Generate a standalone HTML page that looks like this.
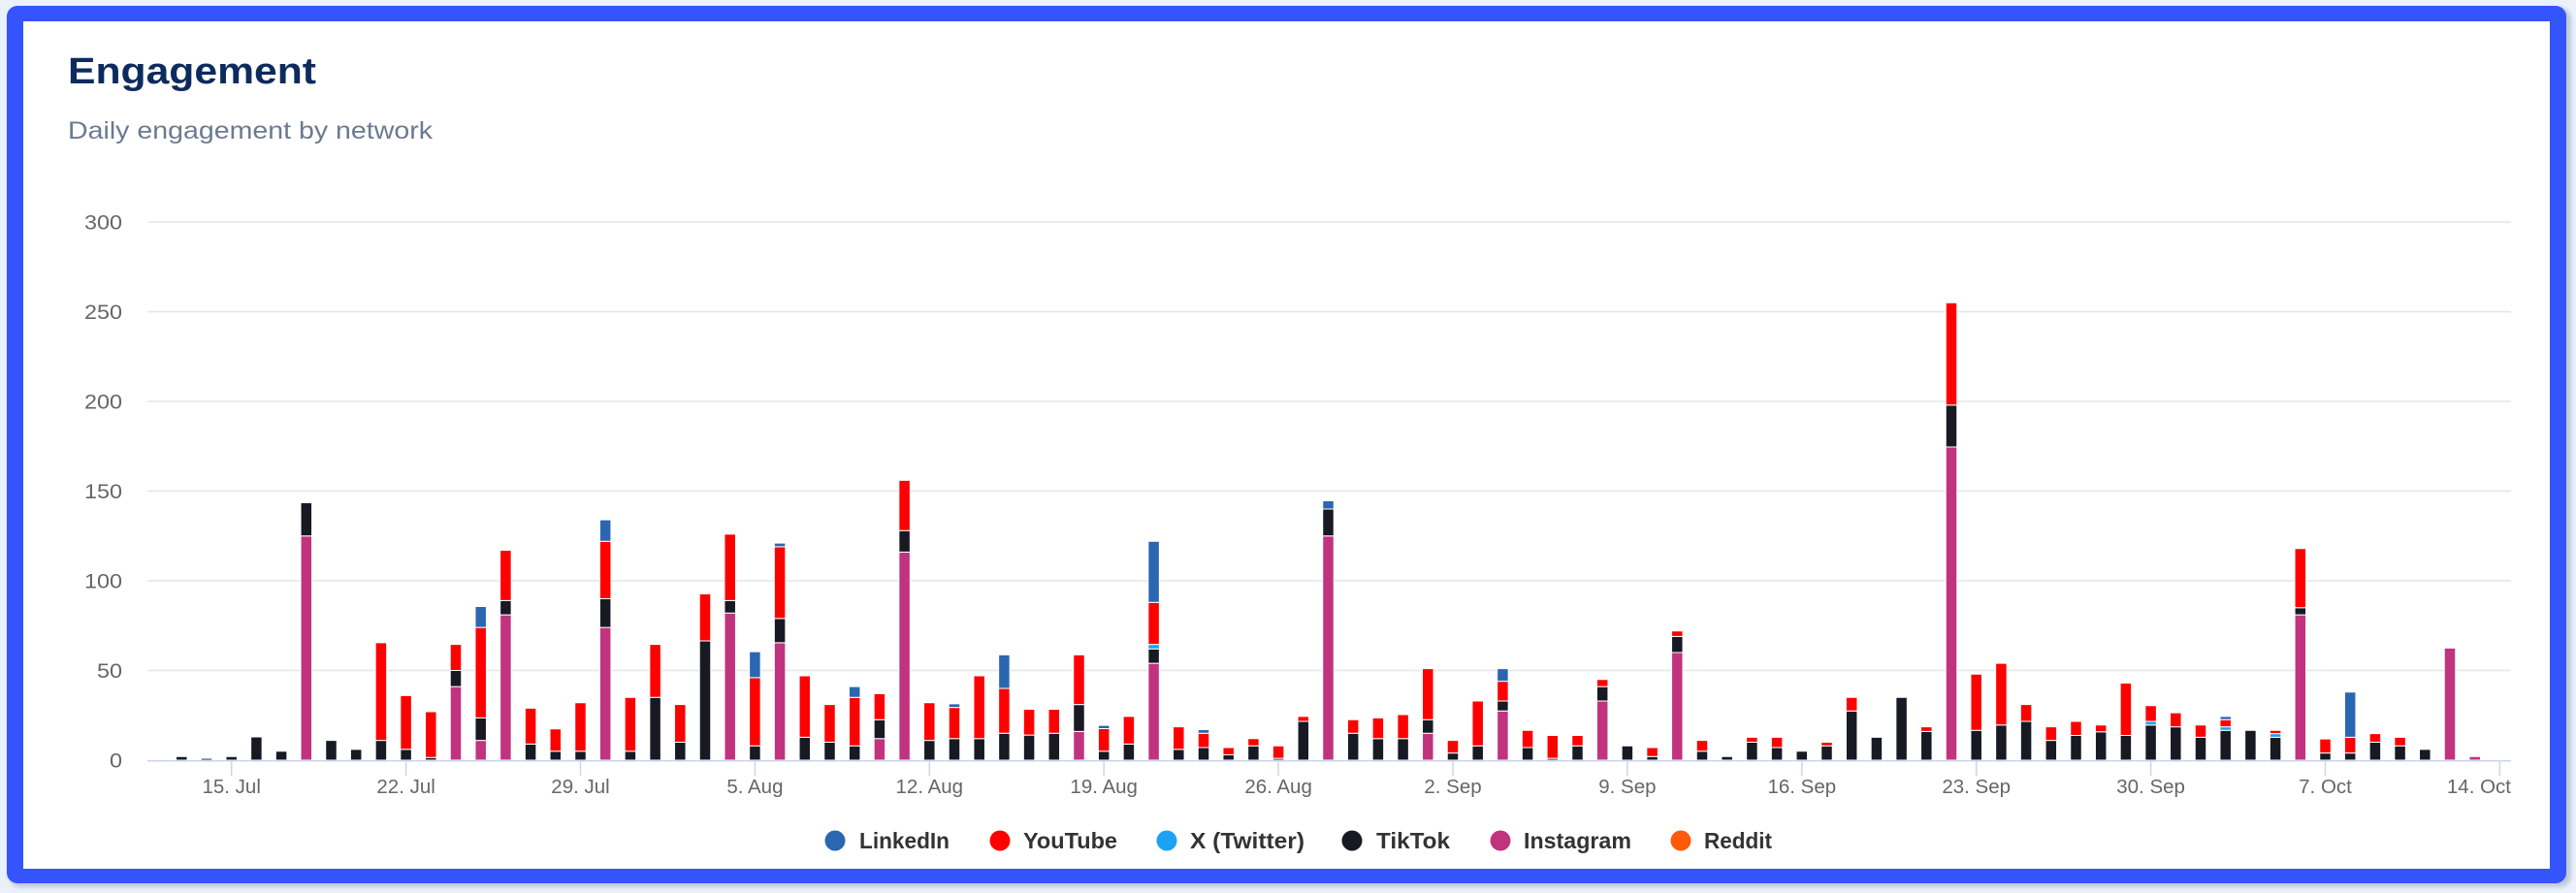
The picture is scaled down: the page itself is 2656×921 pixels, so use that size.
<!DOCTYPE html>
<html>
<head>
<meta charset="utf-8">
<style>
  html,body{margin:0;padding:0;background:#eaf1fb;}
  svg{display:block;}
  text{font-family:"Liberation Sans", Arial, sans-serif;}
  .bars rect{stroke:#ffffff;stroke-width:1px;vector-effect:non-scaling-stroke;}
  .i{fill:#c1337f;}
  .t{fill:#171923;}
  .x{fill:#1da1f2;}
  .y{fill:#ff0000;}
  .l{fill:#2b66b1;}
  .grid line{stroke:#e6e6e6;stroke-width:1.5;}
  .ylab text{font-size:21px;fill:#666666;text-anchor:end;}
  .xlab text{font-size:20.5px;fill:#666666;text-anchor:middle;}
  .ticks line{stroke:#ccd6eb;stroke-width:1.5;}
  .leg text{font-size:23px;font-weight:bold;fill:#333333;}
</style>
</head>
<body>
<svg width="2656" height="921" viewBox="0 0 2656 921" xmlns="http://www.w3.org/2000/svg">
  <defs>
    <filter id="sh" x="-2%" y="-2%" width="104%" height="106%"><feGaussianBlur stdDeviation="2"/></filter>
  </defs>
  <rect width="2656" height="921" fill="#eaf1fb"/>
  <rect x="9" y="8" width="2642" height="907" rx="12" fill="#bfc8d6" filter="url(#sh)"/>
  <rect x="7" y="6" width="2639" height="905" rx="11" fill="#3454fe"/>
  <rect x="24" y="22" width="2605" height="874" fill="#ffffff"/>

  <text x="70" y="86" font-size="38" font-weight="bold" fill="#0d2b5e" textLength="256" lengthAdjust="spacingAndGlyphs">Engagement</text>
  <text x="70" y="143" font-size="25" fill="#6b7a8f" textLength="376" lengthAdjust="spacingAndGlyphs">Daily engagement by network</text>

  <g class="grid">
    <line x1="152" y1="229" x2="2589" y2="229"/>
    <line x1="152" y1="321.5" x2="2589" y2="321.5"/>
    <line x1="152" y1="414" x2="2589" y2="414"/>
    <line x1="152" y1="506.5" x2="2589" y2="506.5"/>
    <line x1="152" y1="599" x2="2589" y2="599"/>
    <line x1="152" y1="691.5" x2="2589" y2="691.5"/>
  </g>

  <g class="ylab">
    <text x="126" y="236.5" textLength="39" lengthAdjust="spacingAndGlyphs">300</text>
    <text x="126" y="329" textLength="39" lengthAdjust="spacingAndGlyphs">250</text>
    <text x="126" y="421.5" textLength="39" lengthAdjust="spacingAndGlyphs">200</text>
    <text x="126" y="514" textLength="39" lengthAdjust="spacingAndGlyphs">150</text>
    <text x="126" y="606.5" textLength="39" lengthAdjust="spacingAndGlyphs">100</text>
    <text x="126" y="699" textLength="26" lengthAdjust="spacingAndGlyphs">50</text>
    <text x="126" y="791.5" textLength="13" lengthAdjust="spacingAndGlyphs">0</text>
  </g>

  <g class="bars" transform="translate(232.95 784) scale(25.7 -1.85)">
    <rect class="t" x="-2" y="0" width=".4475" height="2"/>
    <rect class="t" x="-1" y="0" width=".4475" height="1"/>
    <rect class="t" x="0" y="0" width=".4475" height="2"/>
    <rect class="t" x="1" y="0" width=".4475" height="13"/>
    <rect class="t" x="2" y="0" width=".4475" height="5"/>
    <rect class="i" x="3" y="0" width=".4475" height="125"/>
    <rect class="t" x="3" y="125" width=".4475" height="18.5"/>
    <rect class="t" x="4" y="0" width=".4475" height="11"/>
    <rect class="t" x="5" y="0" width=".4475" height="6"/>
    <rect class="t" x="6" y="0" width=".4475" height="11"/>
    <rect class="y" x="6" y="11" width=".4475" height="54.5"/>
    <rect class="t" x="7" y="0" width=".4475" height="6"/>
    <rect class="y" x="7" y="6" width=".4475" height="30"/>
    <rect class="t" x="8" y="0" width=".4475" height="1.5"/>
    <rect class="y" x="8" y="1.5" width=".4475" height="25.5"/>
    <rect class="i" x="9" y="0" width=".4475" height="41"/>
    <rect class="t" x="9" y="41" width=".4475" height="9"/>
    <rect class="y" x="9" y="50" width=".4475" height="14.5"/>
    <rect class="i" x="10" y="0" width=".4475" height="11"/>
    <rect class="t" x="10" y="11" width=".4475" height="12.6"/>
    <rect class="y" x="10" y="23.6" width=".4475" height="50.4"/>
    <rect class="l" x="10" y="74" width=".4475" height="11.7"/>
    <rect class="i" x="11" y="0" width=".4475" height="81"/>
    <rect class="t" x="11" y="81" width=".4475" height="8"/>
    <rect class="y" x="11" y="89" width=".4475" height="28"/>
    <rect class="t" x="12" y="0" width=".4475" height="9"/>
    <rect class="y" x="12" y="9" width=".4475" height="20"/>
    <rect class="t" x="13" y="0" width=".4475" height="5"/>
    <rect class="y" x="13" y="5" width=".4475" height="12.4"/>
    <rect class="t" x="14" y="0" width=".4475" height="5"/>
    <rect class="y" x="14" y="5" width=".4475" height="27"/>
    <rect class="i" x="15" y="0" width=".4475" height="74"/>
    <rect class="t" x="15" y="74" width=".4475" height="16"/>
    <rect class="y" x="15" y="90" width=".4475" height="32"/>
    <rect class="l" x="15" y="122" width=".4475" height="12"/>
    <rect class="t" x="16" y="0" width=".4475" height="5"/>
    <rect class="y" x="16" y="5" width=".4475" height="30"/>
    <rect class="t" x="17" y="0" width=".4475" height="35"/>
    <rect class="y" x="17" y="35" width=".4475" height="29.5"/>
    <rect class="t" x="18" y="0" width=".4475" height="10"/>
    <rect class="y" x="18" y="10" width=".4475" height="21"/>
    <rect class="t" x="19" y="0" width=".4475" height="66.5"/>
    <rect class="y" x="19" y="66.5" width=".4475" height="26.2"/>
    <rect class="i" x="20" y="0" width=".4475" height="82"/>
    <rect class="t" x="20" y="82" width=".4475" height="7"/>
    <rect class="y" x="20" y="89" width=".4475" height="37"/>
    <rect class="t" x="21" y="0" width=".4475" height="8"/>
    <rect class="y" x="21" y="8" width=".4475" height="38"/>
    <rect class="l" x="21" y="46" width=".4475" height="14.5"/>
    <rect class="i" x="22" y="0" width=".4475" height="65.5"/>
    <rect class="t" x="22" y="65.5" width=".4475" height="13.5"/>
    <rect class="y" x="22" y="79" width=".4475" height="40"/>
    <rect class="l" x="22" y="119" width=".4475" height="2"/>
    <rect class="t" x="23" y="0" width=".4475" height="12.8"/>
    <rect class="y" x="23" y="12.8" width=".4475" height="34.2"/>
    <rect class="t" x="24" y="0" width=".4475" height="10"/>
    <rect class="y" x="24" y="10" width=".4475" height="21"/>
    <rect class="t" x="25" y="0" width=".4475" height="8"/>
    <rect class="y" x="25" y="8" width=".4475" height="27"/>
    <rect class="l" x="25" y="35" width=".4475" height="6"/>
    <rect class="i" x="26" y="0" width=".4475" height="12"/>
    <rect class="t" x="26" y="12" width=".4475" height="10.6"/>
    <rect class="y" x="26" y="22.6" width=".4475" height="14.4"/>
    <rect class="i" x="27" y="0" width=".4475" height="116"/>
    <rect class="t" x="27" y="116" width=".4475" height="12"/>
    <rect class="y" x="27" y="128" width=".4475" height="28"/>
    <rect class="t" x="28" y="0" width=".4475" height="11"/>
    <rect class="y" x="28" y="11" width=".4475" height="21"/>
    <rect class="t" x="29" y="0" width=".4475" height="12"/>
    <rect class="y" x="29" y="12" width=".4475" height="17.4"/>
    <rect class="l" x="29" y="29.4" width=".4475" height="2"/>
    <rect class="t" x="30" y="0" width=".4475" height="12"/>
    <rect class="y" x="30" y="12" width=".4475" height="35"/>
    <rect class="t" x="31" y="0" width=".4475" height="15"/>
    <rect class="y" x="31" y="15" width=".4475" height="25"/>
    <rect class="l" x="31" y="40" width=".4475" height="18.7"/>
    <rect class="t" x="32" y="0" width=".4475" height="14"/>
    <rect class="y" x="32" y="14" width=".4475" height="14.4"/>
    <rect class="t" x="33" y="0" width=".4475" height="15"/>
    <rect class="y" x="33" y="15" width=".4475" height="13.4"/>
    <rect class="i" x="34" y="0" width=".4475" height="16"/>
    <rect class="t" x="34" y="16" width=".4475" height="15"/>
    <rect class="y" x="34" y="31" width=".4475" height="27.7"/>
    <rect class="t" x="35" y="0" width=".4475" height="5"/>
    <rect class="y" x="35" y="5" width=".4475" height="12.6"/>
    <rect class="l" x="35" y="17.6" width=".4475" height="1.8"/>
    <rect class="t" x="36" y="0" width=".4475" height="9"/>
    <rect class="y" x="36" y="9" width=".4475" height="15.4"/>
    <rect class="i" x="37" y="0" width=".4475" height="54"/>
    <rect class="t" x="37" y="54" width=".4475" height="8"/>
    <rect class="x" x="37" y="62" width=".4475" height="2.5"/>
    <rect class="y" x="37" y="64.5" width=".4475" height="23.5"/>
    <rect class="l" x="37" y="88" width=".4475" height="34"/>
    <rect class="t" x="38" y="0" width=".4475" height="6"/>
    <rect class="y" x="38" y="6" width=".4475" height="12.6"/>
    <rect class="t" x="39" y="0" width=".4475" height="7"/>
    <rect class="y" x="39" y="7" width=".4475" height="8"/>
    <rect class="l" x="39" y="15" width=".4475" height="2"/>
    <rect class="t" x="40" y="0" width=".4475" height="3"/>
    <rect class="y" x="40" y="3" width=".4475" height="4"/>
    <rect class="t" x="41" y="0" width=".4475" height="8"/>
    <rect class="y" x="41" y="8" width=".4475" height="4"/>
    <rect class="t" x="42" y="0" width=".4475" height="1"/>
    <rect class="y" x="42" y="1" width=".4475" height="7"/>
    <rect class="t" x="43" y="0" width=".4475" height="21.6"/>
    <rect class="y" x="43" y="21.6" width=".4475" height="2.8"/>
    <rect class="i" x="44" y="0" width=".4475" height="125"/>
    <rect class="t" x="44" y="125" width=".4475" height="15"/>
    <rect class="l" x="44" y="140" width=".4475" height="4.6"/>
    <rect class="t" x="45" y="0" width=".4475" height="15"/>
    <rect class="y" x="45" y="15" width=".4475" height="7.6"/>
    <rect class="t" x="46" y="0" width=".4475" height="12"/>
    <rect class="y" x="46" y="12" width=".4475" height="11.6"/>
    <rect class="t" x="47" y="0" width=".4475" height="12"/>
    <rect class="y" x="47" y="12" width=".4475" height="13.4"/>
    <rect class="i" x="48" y="0" width=".4475" height="15"/>
    <rect class="t" x="48" y="15" width=".4475" height="7.6"/>
    <rect class="y" x="48" y="22.6" width=".4475" height="28.4"/>
    <rect class="t" x="49" y="0" width=".4475" height="4"/>
    <rect class="y" x="49" y="4" width=".4475" height="7"/>
    <rect class="t" x="50" y="0" width=".4475" height="8"/>
    <rect class="y" x="50" y="8" width=".4475" height="25"/>
    <rect class="i" x="51" y="0" width=".4475" height="27.4"/>
    <rect class="t" x="51" y="27.4" width=".4475" height="5.6"/>
    <rect class="y" x="51" y="33" width=".4475" height="11"/>
    <rect class="l" x="51" y="44" width=".4475" height="7"/>
    <rect class="t" x="52" y="0" width=".4475" height="7"/>
    <rect class="y" x="52" y="7" width=".4475" height="9.6"/>
    <rect class="t" x="53" y="0" width=".4475" height="1"/>
    <rect class="y" x="53" y="1" width=".4475" height="12.8"/>
    <rect class="t" x="54" y="0" width=".4475" height="8"/>
    <rect class="y" x="54" y="8" width=".4475" height="5.8"/>
    <rect class="i" x="55" y="0" width=".4475" height="33"/>
    <rect class="t" x="55" y="33" width=".4475" height="8"/>
    <rect class="y" x="55" y="41" width=".4475" height="4"/>
    <rect class="t" x="56" y="0" width=".4475" height="8"/>
    <rect class="t" x="57" y="0" width=".4475" height="2"/>
    <rect class="y" x="57" y="2" width=".4475" height="5"/>
    <rect class="i" x="58" y="0" width=".4475" height="60"/>
    <rect class="t" x="58" y="60" width=".4475" height="9"/>
    <rect class="y" x="58" y="69" width=".4475" height="3"/>
    <rect class="t" x="59" y="0" width=".4475" height="5"/>
    <rect class="y" x="59" y="5" width=".4475" height="6"/>
    <rect class="t" x="60" y="0" width=".4475" height="2"/>
    <rect class="t" x="61" y="0" width=".4475" height="10"/>
    <rect class="y" x="61" y="10" width=".4475" height="2.8"/>
    <rect class="t" x="62" y="0" width=".4475" height="7"/>
    <rect class="y" x="62" y="7" width=".4475" height="5.8"/>
    <rect class="t" x="63" y="0" width=".4475" height="5"/>
    <rect class="t" x="64" y="0" width=".4475" height="8"/>
    <rect class="y" x="64" y="8" width=".4475" height="2"/>
    <rect class="t" x="65" y="0" width=".4475" height="27.4"/>
    <rect class="y" x="65" y="27.4" width=".4475" height="7.6"/>
    <rect class="t" x="66" y="0" width=".4475" height="12.8"/>
    <rect class="t" x="67" y="0" width=".4475" height="35"/>
    <rect class="t" x="68" y="0" width=".4475" height="16"/>
    <rect class="y" x="68" y="16" width=".4475" height="2.6"/>
    <rect class="i" x="69" y="0" width=".4475" height="174.6"/>
    <rect class="t" x="69" y="174.6" width=".4475" height="23.4"/>
    <rect class="y" x="69" y="198" width=".4475" height="57"/>
    <rect class="t" x="70" y="0" width=".4475" height="16.6"/>
    <rect class="y" x="70" y="16.6" width=".4475" height="31.4"/>
    <rect class="t" x="71" y="0" width=".4475" height="19.6"/>
    <rect class="y" x="71" y="19.6" width=".4475" height="34.4"/>
    <rect class="t" x="72" y="0" width=".4475" height="21.6"/>
    <rect class="y" x="72" y="21.6" width=".4475" height="9.4"/>
    <rect class="t" x="73" y="0" width=".4475" height="11"/>
    <rect class="y" x="73" y="11" width=".4475" height="7.6"/>
    <rect class="t" x="74" y="0" width=".4475" height="13.8"/>
    <rect class="y" x="74" y="13.8" width=".4475" height="7.8"/>
    <rect class="t" x="75" y="0" width=".4475" height="15.8"/>
    <rect class="y" x="75" y="15.8" width=".4475" height="3.8"/>
    <rect class="t" x="76" y="0" width=".4475" height="13.8"/>
    <rect class="y" x="76" y="13.8" width=".4475" height="29.2"/>
    <rect class="t" x="77" y="0" width=".4475" height="19.6"/>
    <rect class="x" x="77" y="19.6" width=".4475" height="2"/>
    <rect class="y" x="77" y="21.6" width=".4475" height="8.8"/>
    <rect class="t" x="78" y="0" width=".4475" height="18.6"/>
    <rect class="y" x="78" y="18.6" width=".4475" height="7.8"/>
    <rect class="t" x="79" y="0" width=".4475" height="12.8"/>
    <rect class="y" x="79" y="12.8" width=".4475" height="6.8"/>
    <rect class="t" x="80" y="0" width=".4475" height="16.6"/>
    <rect class="x" x="80" y="16.6" width=".4475" height="2"/>
    <rect class="y" x="80" y="18.6" width=".4475" height="4"/>
    <rect class="l" x="80" y="22.6" width=".4475" height="1.8"/>
    <rect class="t" x="81" y="0" width=".4475" height="16.6"/>
    <rect class="t" x="82" y="0" width=".4475" height="12.8"/>
    <rect class="x" x="82" y="12.8" width=".4475" height="2"/>
    <rect class="y" x="82" y="14.8" width=".4475" height="1.8"/>
    <rect class="i" x="83" y="0" width=".4475" height="81"/>
    <rect class="t" x="83" y="81" width=".4475" height="4"/>
    <rect class="y" x="83" y="85" width=".4475" height="33"/>
    <rect class="t" x="84" y="0" width=".4475" height="4"/>
    <rect class="y" x="84" y="4" width=".4475" height="7.8"/>
    <rect class="t" x="85" y="0" width=".4475" height="4"/>
    <rect class="y" x="85" y="4" width=".4475" height="8.8"/>
    <rect class="l" x="85" y="12.8" width=".4475" height="25.2"/>
    <rect class="t" x="86" y="0" width=".4475" height="10"/>
    <rect class="y" x="86" y="10" width=".4475" height="4.8"/>
    <rect class="t" x="87" y="0" width=".4475" height="8"/>
    <rect class="y" x="87" y="8" width=".4475" height="4.8"/>
    <rect class="t" x="88" y="0" width=".4475" height="6"/>
    <rect class="i" x="89" y="0" width=".4475" height="62.5"/>
    <rect class="i" x="90" y="0" width=".4475" height="2"/>
  </g>

  <g class="ticks">
    <line x1="152" y1="784.75" x2="2589" y2="784.75"/>
    <line x1="238.7" y1="784" x2="238.7" y2="800"/>
    <line x1="418.6" y1="784" x2="418.6" y2="800"/>
    <line x1="598.5" y1="784" x2="598.5" y2="800"/>
    <line x1="778.4" y1="784" x2="778.4" y2="800"/>
    <line x1="958.3" y1="784" x2="958.3" y2="800"/>
    <line x1="1138.2" y1="784" x2="1138.2" y2="800"/>
    <line x1="1318.1" y1="784" x2="1318.1" y2="800"/>
    <line x1="1498" y1="784" x2="1498" y2="800"/>
    <line x1="1677.9" y1="784" x2="1677.9" y2="800"/>
    <line x1="1857.8" y1="784" x2="1857.8" y2="800"/>
    <line x1="2037.7" y1="784" x2="2037.7" y2="800"/>
    <line x1="2217.6" y1="784" x2="2217.6" y2="800"/>
    <line x1="2397.5" y1="784" x2="2397.5" y2="800"/>
    <line x1="2577.4" y1="784" x2="2577.4" y2="800"/>
  </g>

  <g class="xlab">
    <text x="238.7" y="818">15. Jul</text>
    <text x="418.6" y="818">22. Jul</text>
    <text x="598.5" y="818">29. Jul</text>
    <text x="778.4" y="818">5. Aug</text>
    <text x="958.3" y="818">12. Aug</text>
    <text x="1138.2" y="818">19. Aug</text>
    <text x="1318.1" y="818">26. Aug</text>
    <text x="1498" y="818">2. Sep</text>
    <text x="1677.9" y="818">9. Sep</text>
    <text x="1857.8" y="818">16. Sep</text>
    <text x="2037.7" y="818">23. Sep</text>
    <text x="2217.6" y="818">30. Sep</text>
    <text x="2397.5" y="818">7. Oct</text>
    <text x="2589" y="818" style="text-anchor:end">14. Oct</text>
  </g>

  <g class="leg">
    <circle cx="861" cy="867" r="10.5" fill="#2b66b1"/>
    <text x="886" y="875" textLength="93" lengthAdjust="spacingAndGlyphs">LinkedIn</text>
    <circle cx="1031" cy="867" r="10.5" fill="#ff0000"/>
    <text x="1055" y="875" textLength="97" lengthAdjust="spacingAndGlyphs">YouTube</text>
    <circle cx="1203" cy="867" r="10.5" fill="#1da1f2"/>
    <text x="1227" y="875" textLength="118" lengthAdjust="spacingAndGlyphs">X (Twitter)</text>
    <circle cx="1394" cy="867" r="10.5" fill="#171923"/>
    <text x="1419" y="875" textLength="76" lengthAdjust="spacingAndGlyphs">TikTok</text>
    <circle cx="1547" cy="867" r="10.5" fill="#c1337f"/>
    <text x="1571" y="875" textLength="111" lengthAdjust="spacingAndGlyphs">Instagram</text>
    <circle cx="1733" cy="867" r="10.5" fill="#ff5a0a"/>
    <text x="1757" y="875" textLength="70" lengthAdjust="spacingAndGlyphs">Reddit</text>
  </g>
</svg>
</body>
</html>
